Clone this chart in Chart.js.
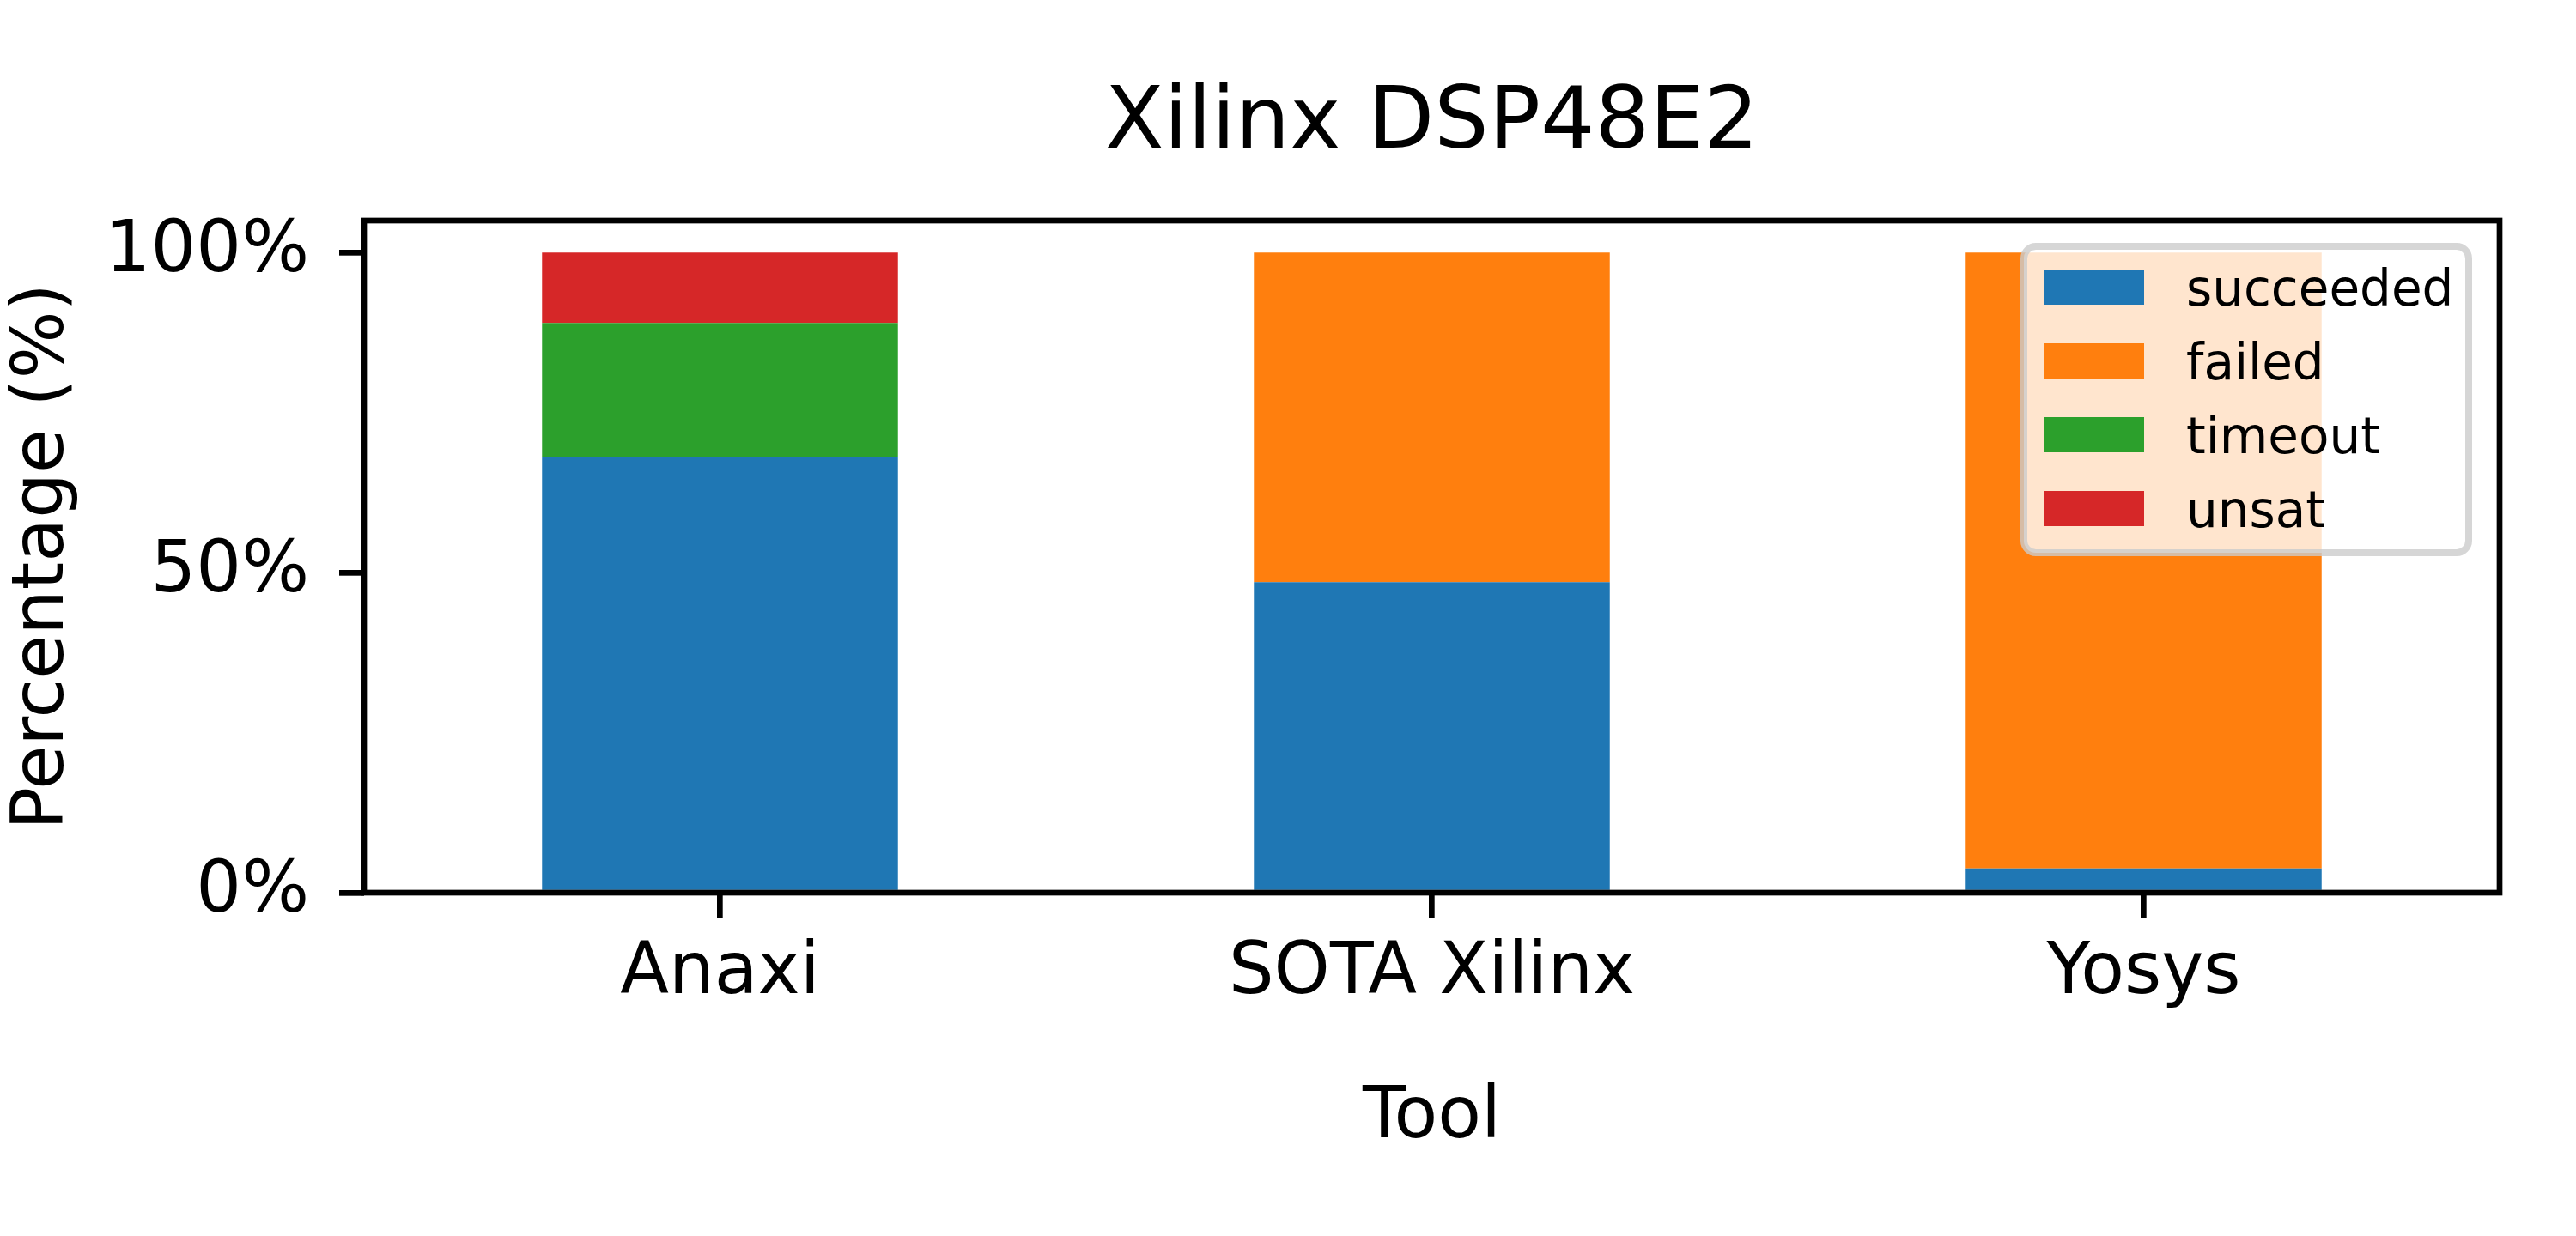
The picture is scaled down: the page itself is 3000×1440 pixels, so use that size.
<!DOCTYPE html>
<html>
<head>
<meta charset="utf-8">
<script src="https://cdn.jsdelivr.net/npm/chart.js@4.4.1/dist/chart.umd.min.js"></script>
<style>
  html, body { margin: 0; padding: 0; background: #fff; }
  canvas { display: block; }
</style>
</head>
<body>
<canvas id="chart" width="3000" height="1440" style="width:3000px;height:1440px"></canvas>
<script>
// data
const tools = ["Anaxi", "SOTA Xilinx", "Yosys"];
const succeeded = [68.1, 48.5, 3.8];
const failed = [0, 51.5, 96.2];
const timeout = [20.9, 0, 0];
const unsat = [11.0, 0, 0];
const yTicks = [0, 50, 100];

const colors = {
  blue: "#1f77b4",
  orange: "#ff7f0e",
  green: "#2ca02c",
  red: "#d62728"
};

Chart.defaults.font.family = "'DejaVu Sans', sans-serif";
Chart.defaults.color = "#000";

const LW = 6.7;

// axes frame, drawn over the bars like matplotlib spines
const frame = {
  id: "frame",
  afterDatasetsDraw(chart) {
    const { ctx, chartArea: a } = chart;
    ctx.save();
    ctx.strokeStyle = "#000";
    ctx.lineWidth = LW;
    ctx.lineJoin = "miter";
    ctx.strokeRect(a.left, a.top, a.right - a.left, a.bottom - a.top);
    ctx.restore();
  }
};

// legend inside the axes, upper right
const boxLegend = {
  id: "boxLegend",
  afterDraw(chart) {
    const ctx = chart.ctx;
    const x0 = 2353, y0 = 283, w = 526, h = 365;
    ctx.save();
    ctx.beginPath();
    ctx.roundRect(x0 + 4, y0 + 4, w - 8, h - 8, 14);
    ctx.fillStyle = "rgba(255,255,255,0.8)";
    ctx.fill();
    ctx.lineWidth = 8;
    ctx.strokeStyle = "rgba(204,204,204,0.8)";
    ctx.stroke();
    ctx.font = "58px 'DejaVu Sans'";
    ctx.textBaseline = "alphabetic";
    ctx.textAlign = "left";
    chart.data.datasets.forEach((ds, i) => {
      const cy = 334.5 + i * 86;
      ctx.fillStyle = ds.backgroundColor;
      ctx.fillRect(2381, cy - 20.5, 116, 41);
      ctx.fillStyle = "#000";
      ctx.fillText(ds.label, 2546, cy + 21);
    });
    ctx.restore();
  }
};

new Chart(document.getElementById("chart"), {
  type: "bar",
  data: {
    labels: tools,
    datasets: [
      { label: "succeeded", data: succeeded, backgroundColor: colors.blue },
      { label: "failed", data: failed, backgroundColor: colors.orange },
      { label: "timeout", data: timeout, backgroundColor: colors.green },
      { label: "unsat", data: unsat, backgroundColor: colors.red }
    ]
  },
  options: {
    responsive: false,
    devicePixelRatio: 1,
    animation: false,
    layout: { padding: { left: 0, right: 89, top: 0, bottom: 0 } },
    datasets: {
      bar: { categoryPercentage: 1.0, barPercentage: 0.5, borderWidth: 0 }
    },
    plugins: {
      legend: { display: false },
      tooltip: { enabled: false },
      title: {
        display: true,
        text: "Xilinx DSP48E2",
        fullSize: false,
        font: { size: 100, weight: "normal" },
        color: "#000",
        padding: { top: 86, bottom: 51 }
      }
    },
    scales: {
      x: {
        stacked: true,
        offset: true,
        border: { display: false },
        grid: {
          offset: false,
          drawOnChartArea: false,
          drawTicks: true,
          tickLength: 29,
          lineWidth: LW,
          color: "#000"
        },
        ticks: { font: { size: 83 }, color: "#000", padding: 17, maxRotation: 0 },
        title: {
          display: true,
          text: "Tool",
          font: { size: 83 },
          color: "#000",
          padding: { top: 0, bottom: 87 }
        },
        afterFit: s => { s.height = 400; }
      },
      y: {
        stacked: true,
        min: 0,
        max: 105,
        border: { display: false },
        grid: {
          drawOnChartArea: false,
          drawTicks: true,
          tickLength: 29,
          lineWidth: LW,
          color: "#000"
        },
        afterBuildTicks: s => { s.ticks = yTicks.map(v => ({ value: v })); },
        ticks: {
          font: { size: 83 },
          color: "#000",
          padding: 35,
          callback: v => v + "%"
        },
        title: {
          display: true,
          text: "Percentage (%)",
          font: { size: 83 },
          color: "#000",
          padding: { top: 2, bottom: 0 }
        },
        afterFit: s => { s.width = 424; }
      }
    }
  },
  plugins: [frame, boxLegend]
});
</script>
</body>
</html>
